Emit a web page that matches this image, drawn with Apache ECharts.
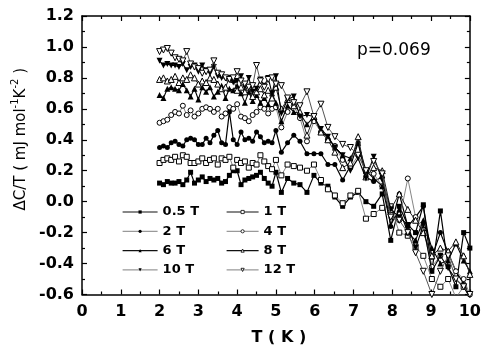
<!DOCTYPE html>
<html>
<head>
<meta charset="utf-8">
<script src="https://cdn.jsdelivr.net/npm/echarts@6/dist/echarts.min.js"></script>
<style>
  html, body { margin: 0; padding: 0; background: #fff; }
  #chart { width: 484px; height: 351px; }
</style>
</head>
<body>
<div id="chart"></div>
<script>
// Temperature points (K)
const temps = [2.0, 2.1, 2.2, 2.3, 2.4, 2.5, 2.6, 2.7, 2.8, 2.9, 3.0, 3.1, 3.2, 3.3, 3.4, 3.5,
  3.6, 3.7, 3.8, 3.9, 4.0, 4.1, 4.2, 4.3, 4.4, 4.5, 4.6, 4.7, 4.8, 4.9, 5.0,
  5.14, 5.3, 5.46, 5.62, 5.8, 5.98, 6.16, 6.34, 6.52, 6.72, 6.92, 7.12, 7.32, 7.52, 7.74,
  7.96, 8.18, 8.4, 8.6, 8.8, 9.02, 9.24, 9.44, 9.64, 9.84, 10.0];

// ΔC/T (mJ mol^-1 K^-2) for each applied field
const field05 = [0.12, 0.11, 0.13, 0.12, 0.12, 0.13, 0.11, 0.14, 0.19, 0.12, 0.14, 0.16, 0.13, 0.15, 0.14, 0.15,
  0.12, 0.13, 0.17, 0.20, 0.20, 0.11, 0.14, 0.15, 0.16, 0.17, 0.19, 0.15, 0.12, 0.10, 0.19,
  0.06, 0.15, 0.12, 0.11, 0.06, 0.17, 0.12, 0.10, 0.03, -0.03, 0.03, 0.06, 0.00, -0.03, 0.05,
  -0.25, -0.03, -0.15, -0.20, -0.02, -0.45, -0.06, -0.42, -0.55, -0.20, -0.30];
const field1 = [0.25, 0.27, 0.28, 0.27, 0.29, 0.26, 0.30, 0.29, 0.25, 0.25, 0.26, 0.28, 0.25, 0.27, 0.28, 0.24,
  0.28, 0.27, 0.29, 0.22, 0.27, 0.25, 0.26, 0.22, 0.25, 0.24, 0.30, 0.26, 0.23, 0.21, 0.27,
  0.17, 0.24, 0.23, 0.22, 0.20, 0.24, 0.14, 0.08, 0.04, -0.01, 0.04, 0.07, -0.11, -0.08, -0.04,
  -0.03, -0.20, -0.22, -0.29, -0.35, -0.50, -0.55, -0.50, -0.62, -0.55, -0.62];
const field2 = [0.35, 0.36, 0.35, 0.38, 0.39, 0.37, 0.36, 0.40, 0.41, 0.40, 0.37, 0.37, 0.41, 0.38, 0.43, 0.46,
  0.38, 0.37, 0.58, 0.40, 0.37, 0.45, 0.40, 0.41, 0.39, 0.45, 0.42, 0.38, 0.39, 0.38, 0.46,
  0.32, 0.38, 0.43, 0.39, 0.31, 0.31, 0.31, 0.24, 0.24, 0.14, 0.23, 0.38, 0.16, 0.13, 0.16,
  -0.16, 0.05, -0.16, -0.10, -0.03, -0.36, -0.20, -0.33, -0.45, -0.53, -0.62];
const field4 = [0.51, 0.52, 0.53, 0.56, 0.58, 0.57, 0.62, 0.56, 0.59, 0.55, 0.57, 0.60, 0.61, 0.60, 0.58, 0.60,
  0.55, 0.57, 0.61, 0.60, 0.63, 0.55, 0.54, 0.52, 0.56, 0.58, 0.61, 0.60, 0.57, 0.60, 0.61,
  0.48, 0.58, 0.62, 0.54, 0.39, 0.52, 0.45, 0.40, 0.36, 0.27, 0.22, 0.30, 0.20, 0.18, 0.10,
  -0.08, -0.12, 0.15, -0.10, -0.18, -0.42, -0.35, -0.33, -0.45, -0.50, -0.60];
const field6 = [0.69, 0.67, 0.73, 0.74, 0.73, 0.72, 0.76, 0.72, 0.68, 0.73, 0.66, 0.74, 0.71, 0.74, 0.68, 0.71,
  0.75, 0.67, 0.73, 0.72, 0.75, 0.70, 0.64, 0.71, 0.65, 0.69, 0.64, 0.67, 0.63, 0.70, 0.64,
  0.52, 0.62, 0.58, 0.57, 0.50, 0.55, 0.45, 0.42, 0.35, 0.30, 0.28, 0.38, 0.20, 0.15, 0.10,
  -0.15, -0.05, -0.20, -0.25, -0.12, -0.30, -0.40, -0.38, -0.27, -0.38, -0.45];
const field8 = [0.79, 0.80, 0.78, 0.79, 0.81, 0.77, 0.80, 0.79, 0.82, 0.80, 0.76, 0.78, 0.77, 0.80, 0.79, 0.76,
  0.73, 0.74, 0.80, 0.79, 0.72, 0.74, 0.71, 0.74, 0.68, 0.71, 0.73, 0.69, 0.72, 0.67, 0.74,
  0.60, 0.66, 0.62, 0.58, 0.43, 0.55, 0.45, 0.40, 0.32, 0.22, 0.25, 0.42, 0.16, 0.22, 0.20,
  -0.05, 0.05, -0.05, -0.12, -0.20, -0.35, -0.30, -0.32, -0.26, -0.35, -0.47];
const field10 = [0.91, 0.88, 0.89, 0.88, 0.88, 0.87, 0.89, 0.85, 0.87, 0.88, 0.84, 0.88, 0.85, 0.83, 0.87, 0.81,
  0.80, 0.80, 0.80, 0.77, 0.78, 0.81, 0.74, 0.80, 0.71, 0.73, 0.79, 0.75, 0.80, 0.70, 0.81,
  0.57, 0.66, 0.68, 0.55, 0.56, 0.55, 0.47, 0.42, 0.35, 0.30, 0.20, 0.28, 0.15, 0.29, 0.14,
  -0.05, -0.10, -0.15, -0.30, -0.15, -0.45, -0.35, -0.43, -0.50, -0.55, -0.62];
const field12 = [0.97, 0.98, 0.99, 0.96, 0.93, 0.92, 0.91, 0.97, 0.89, 0.87, 0.86, 0.83, 0.84, 0.85, 0.91, 0.83,
  0.82, 0.80, 0.79, 0.80, 0.84, 0.78, 0.76, 0.74, 0.75, 0.88, 0.78, 0.74, 0.79, 0.80, 0.76,
  0.75, 0.67, 0.64, 0.62, 0.71, 0.55, 0.63, 0.48, 0.42, 0.37, 0.35, 0.30, 0.20, 0.26, 0.18,
  -0.10, -0.12, -0.20, -0.33, -0.45, -0.60, -0.45, -0.35, -0.50, -0.55, -0.60];

const fieldNames = ['0.5 T', '1 T', '2 T', '4 T', '6 T', '8 T', '10 T', '12 T'];
const fieldValues = [field05, field1, field2, field4, field6, field8, field10, field12];

const xTicks = { min: 0, max: 10, step: 1 };
const yTicks = { min: -0.6, max: 1.2, step: 0.2 };

// marker look per field: shape, rotation, filled?, line colour, line width, legend line colour
const looks = [
  { symbol: 'rect', rotate: 0, filled: true, size: 5, line: '#000', width: 1.2, legendLine: '#111' },
  { symbol: 'rect', rotate: 0, filled: false, size: 5, line: '#777', width: 0.9, legendLine: '#111' },
  { symbol: 'circle', rotate: 0, filled: true, size: 5, line: '#000', width: 1.2, legendLine: '#999' },
  { symbol: 'circle', rotate: 0, filled: false, size: 5, line: '#777', width: 0.9, legendLine: '#999' },
  { symbol: 'triangle', rotate: 0, filled: true, size: 6, line: '#000', width: 1.1, legendLine: '#111' },
  { symbol: 'triangle', rotate: 0, filled: false, size: 6, line: '#222', width: 1.0, legendLine: '#111' },
  { symbol: 'triangle', rotate: 180, filled: true, size: 6, line: '#000', width: 1.1, legendLine: '#999' },
  { symbol: 'triangle', rotate: 180, filled: false, size: 6, line: '#555', width: 1.0, legendLine: '#999' }
];

const series = fieldNames.map((name, k) => {
  const lk = looks[k];
  return {
    name: name,
    type: 'line',
    data: temps.map((t, i) => [t, fieldValues[k][i]]),
    symbol: lk.symbol,
    symbolRotate: lk.rotate,
    symbolSize: lk.size,
    showAllSymbol: true,
    clip: true,
    lineStyle: { color: lk.line, width: lk.width },
    itemStyle: lk.filled
      ? { color: '#000', borderColor: '#000', borderWidth: 0 }
      : { color: '#fff', borderColor: '#000', borderWidth: 1 },
    emphasis: { disabled: true },
    z: 2 + k
  };
});

const labelFont = { fontFamily: 'DejaVu Sans', fontWeight: 'bold', fontSize: 16, color: '#000' };

function legendFor(names, left, width) {
  return {
    orient: 'vertical',
    left: left,
    top: 200,
    itemWidth: width,
    itemHeight: 4,
    itemGap: 5.3,
    selectedMode: false,
    data: names.map(n => {
      const lk = looks[fieldNames.indexOf(n)];
      return {
        name: n,
        lineStyle: { color: lk.legendLine, width: 1.2 },
        itemStyle: lk.filled
          ? { color: '#000', borderWidth: 0 }
          : { color: '#fff', borderColor: '#000', borderWidth: 0.8 }
      };
    }),
    textStyle: { fontFamily: 'DejaVu Sans', fontWeight: 'bold', fontSize: 13, color: '#000', lineHeight: 14 }
  };
}

const chart = echarts.init(document.getElementById('chart'), null, { renderer: 'canvas' });
chart.setOption({
  animation: false,
  backgroundColor: '#fff',
  grid: { left: 82, right: 11.5, top: 16, bottom: 56.5 },
  legend: [
    legendFor(['0.5 T', '2 T', '6 T', '10 T'], 117, 35),
    legendFor(['1 T', '4 T', '8 T', '12 T'], 221, 32)
  ],
  xAxis: [
    {
      type: 'value', min: xTicks.min, max: xTicks.max, interval: xTicks.step, position: 'bottom',
      name: 'T ( K )', nameLocation: 'middle', nameGap: 35,
      nameTextStyle: { fontFamily: 'DejaVu Sans', fontWeight: 'bold', fontSize: 16, color: '#000', padding: [0, 0, 0, 6] },
      axisLine: { onZero: false, lineStyle: { color: '#000', width: 1.5 } },
      axisTick: { inside: true, length: 5, lineStyle: { color: '#000', width: 1.2 } },
      minorTick: { show: true, splitNumber: 2, length: 3, lineStyle: { color: '#000', width: 1.2 } },
      axisLabel: Object.assign({ margin: 9 }, labelFont),
      splitLine: { show: false }
    },
    {
      type: 'value', min: xTicks.min, max: xTicks.max, interval: xTicks.step, position: 'top',
      axisLine: { onZero: false, lineStyle: { color: '#000', width: 1.5 } },
      axisTick: { inside: true, length: 5, lineStyle: { color: '#000', width: 1.2 } },
      minorTick: { show: true, splitNumber: 2, length: 3, lineStyle: { color: '#000', width: 1.2 } },
      axisLabel: { show: false },
      splitLine: { show: false }
    }
  ],
  yAxis: [
    {
      type: 'value', min: yTicks.min, max: yTicks.max, interval: yTicks.step, position: 'left',
      name: '{t|ΔC/T ( mJ mol}{s|-1}{t|K}{s|-2}{t| )}',
      nameLocation: 'middle', nameGap: 43, nameRotate: 90,
      nameTextStyle: {
        padding: [0, 0, 0, 32],
        rich: {
          t: { fontFamily: 'DejaVu Sans', fontSize: 15, color: '#000', lineHeight: 20 },
          s: { fontFamily: 'DejaVu Sans', fontSize: 10, color: '#000', lineHeight: 11, verticalAlign: 'top' }
        }
      },
      axisLine: { onZero: false, lineStyle: { color: '#000', width: 1.5 } },
      axisTick: { inside: true, length: 5, lineStyle: { color: '#000', width: 1.2 } },
      minorTick: { show: true, splitNumber: 2, length: 3, lineStyle: { color: '#000', width: 1.2 } },
      axisLabel: Object.assign({ margin: 8, formatter: v => v.toFixed(1) }, labelFont),
      splitLine: { show: false }
    },
    {
      type: 'value', min: yTicks.min, max: yTicks.max, interval: yTicks.step, position: 'right',
      axisLine: { onZero: false, lineStyle: { color: '#000', width: 1.5 } },
      axisTick: { inside: true, length: 5, lineStyle: { color: '#000', width: 1.2 } },
      minorTick: { show: true, splitNumber: 2, length: 3, lineStyle: { color: '#000', width: 1.2 } },
      axisLabel: { show: false },
      splitLine: { show: false }
    }
  ],
  graphic: [
    {
      type: 'text', left: 357, top: 42, silent: true,
      style: { text: 'p=0.069', font: '17px "DejaVu Sans"', fill: '#000' }
    }
  ],
  series: series
});
</script>
</body>
</html>
